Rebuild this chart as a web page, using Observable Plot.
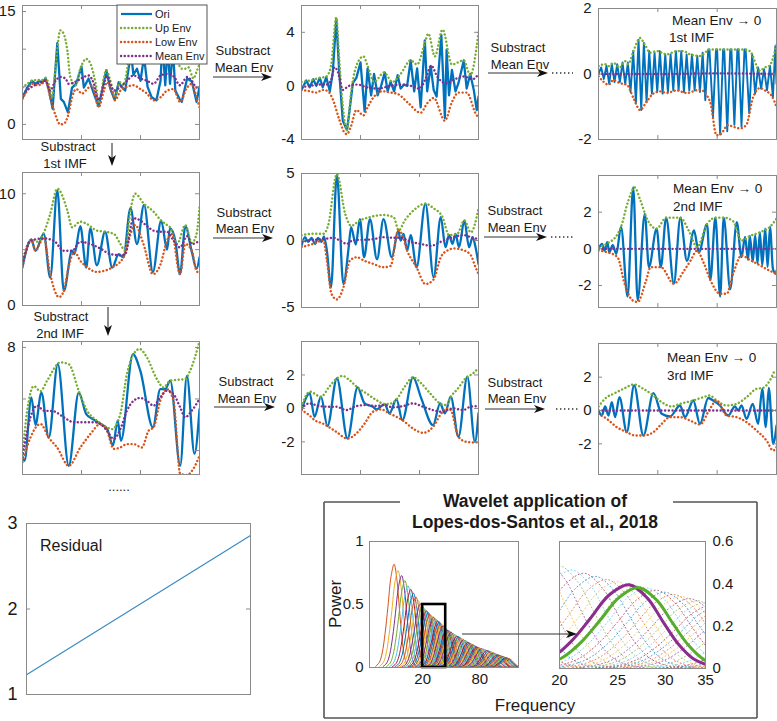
<!DOCTYPE html>
<html><head><meta charset="utf-8">
<script src="https://cdn.jsdelivr.net/npm/d3@7"></script>
<script src="https://cdn.jsdelivr.net/npm/@observablehq/plot@0.6"></script>
<style>
html,body{margin:0;padding:0;background:#fff;overflow:hidden;}
#fig{position:relative;width:777px;height:721px;overflow:hidden;background:#fff;}
</style></head><body><div id="fig"></div>
<script>
// ---------------- DATA ----------------
const seriesNames = ["Ori", "Up Env", "Low Env", "Mean Env"];
const imfNames = ["1st IMF", "2nd IMF", "3rd IMF"];
const xTicks = [1, 2];

// Row 1, original signal
const a1Ori = [[0,3.5],[0.08,4.9],[0.16,5.8],[0.22,5.4],[0.28,5.8],[0.33,5.5],[0.39,6.1],[0.45,4.5],[0.51,2.1],[0.59,10.8],[0.65,3.4],[0.70,3.0],[0.77,1.6],[0.84,4.9],[0.91,5.4],[1.0,7.7],[1.04,4.9],[1.12,6.1],[1.21,4.1],[1.29,2.4],[1.35,4.5],[1.42,7.2],[1.49,4.7],[1.56,3.3],[1.63,5.6],[1.69,4.9],[1.74,4.5],[1.84,9.5],[1.88,6.6],[1.94,7.4],[2.0,5.8],[2.06,9.0],[2.12,5.0],[2.19,3.6],[2.27,3.2],[2.34,5.8],[2.37,11.0],[2.42,5.2],[2.46,10.5],[2.50,5.4],[2.55,10.0],[2.59,4.5],[2.66,3.4],[2.70,3.0],[2.79,6.1],[2.87,5.7],[2.95,3.0],[3.0,5.0]];
const a1Up = [[0,4.9],[0.08,5.4],[0.16,5.8],[0.25,5.9],[0.33,5.9],[0.39,6.2],[0.45,5.2],[0.50,3.6],[0.56,7.6],[0.64,12.5],[0.70,12.0],[0.76,9.8],[0.81,6.3],[0.90,5.2],[0.98,7.4],[1.08,8.7],[1.15,8.1],[1.24,5.4],[1.30,2.8],[1.38,6.3],[1.42,7.2],[1.49,5.8],[1.57,3.6],[1.65,5.6],[1.71,5.2],[1.84,9.6],[1.95,9.0],[2.06,9.1],[2.20,8.5],[2.30,9.5],[2.40,11.5],[2.50,11.0],[2.60,9.0],[2.70,7.4],[2.76,7.4],[2.81,7.6],[2.90,6.1],[2.95,7.0],[3.0,8.0]];
const a1Low = [[0,3.4],[0.08,4.5],[0.16,5.4],[0.25,5.2],[0.33,5.4],[0.39,5.8],[0.47,3.6],[0.56,1.2],[0.64,0.0],[0.70,0.1],[0.78,1.4],[0.84,3.6],[0.91,4.7],[1.01,4.1],[1.07,4.5],[1.18,5.2],[1.29,2.3],[1.38,4.5],[1.43,5.6],[1.52,4.3],[1.57,3.2],[1.66,4.5],[1.77,5.0],[1.88,5.2],[2.0,4.7],[2.11,4.1],[2.22,3.2],[2.34,3.6],[2.45,4.5],[2.56,4.7],[2.67,3.0],[2.79,4.9],[2.87,5.4],[2.95,3.6],[3.0,2.3]];
const a1Mean = [[0,4.1],[0.14,4.9],[0.25,5.4],[0.39,5.8],[0.47,4.5],[0.56,5.8],[0.64,6.3],[0.73,6.1],[0.78,5.4],[0.84,5.5],[0.93,5.8],[1.04,6.3],[1.12,6.5],[1.21,5.4],[1.29,3.2],[1.38,5.4],[1.43,6.4],[1.55,4.5],[1.66,5.0],[1.77,5.8],[1.88,6.5],[2.0,6.1],[2.11,5.8],[2.22,5.4],[2.34,6.5],[2.45,6.7],[2.56,6.4],[2.67,5.2],[2.79,6.3],[2.87,5.8],[2.95,4.9],[3.0,4.9]];

const a2Ori = [[0,-0.3],[0.08,0.4],[0.14,-0.1],[0.2,0.5],[0.25,0.0],[0.31,0.6],[0.36,-0.1],[0.42,0.65],[0.48,-0.4],[0.53,1.0],[0.59,5.0],[0.64,1.0],[0.70,-2.6],[0.77,-3.3],[0.81,-2.0],[0.87,0.2],[0.93,0.6],[1.0,1.75],[1.07,-1.9],[1.12,1.3],[1.18,-0.7],[1.23,0.9],[1.29,-0.7],[1.35,0.0],[1.41,1.0],[1.46,-0.4],[1.51,0.3],[1.57,-0.4],[1.63,0.8],[1.68,-0.2],[1.74,0.1],[1.79,0.0],[1.85,1.9],[1.91,-0.4],[1.96,1.3],[2.02,-1.6],[2.09,3.4],[2.13,-0.4],[2.19,1.5],[2.24,-0.3],[2.29,-0.8],[2.37,3.8],[2.43,-2.4],[2.46,2.7],[2.50,-0.7],[2.55,1.2],[2.61,-0.4],[2.66,0.2],[2.75,1.9],[2.80,-0.2],[2.86,0.9],[2.92,-0.3],[2.97,-1.8],[3.0,-0.8]];
const a2Up = [[0,0.3],[0.14,0.4],[0.31,0.6],[0.42,0.7],[0.50,1.5],[0.59,5.1],[0.64,2.0],[0.70,-1.5],[0.77,-3.3],[0.84,-0.5],[0.93,1.5],[1.05,2.2],[1.12,1.5],[1.23,0.3],[1.40,1.0],[1.54,0.3],[1.68,0.9],[1.85,1.9],[1.96,1.6],[2.09,3.2],[2.15,3.9],[2.26,2.2],[2.39,4.2],[2.55,1.6],[2.75,1.9],[2.86,0.8],[3.0,4.0]];
const a2Low = [[0,-0.3],[0.14,-0.4],[0.25,-0.5],[0.36,-0.3],[0.45,-0.4],[0.53,-1.0],[0.64,-2.5],[0.73,-3.5],[0.77,-3.6],[0.84,-3.0],[0.93,-1.8],[1.05,-2.2],[1.12,-1.6],[1.23,-0.8],[1.37,-0.4],[1.51,-0.5],[1.63,-0.6],[1.79,-1.2],[2.02,-2.0],[2.13,-1.3],[2.24,-0.9],[2.43,-2.6],[2.55,-1.2],[2.66,-0.5],[2.80,-0.5],[2.97,-2.2],[3.0,-2.3]];
const a2Mean = [[0,-0.1],[0.14,0.0],[0.30,0.1],[0.42,0.1],[0.50,0.4],[0.56,1.4],[0.62,1.0],[0.70,-0.3],[0.80,0.0],[0.95,0.1],[1.1,-0.1],[1.3,-0.2],[1.5,0.0],[1.7,0.1],[1.85,0.0],[2.0,-0.2],[2.1,0.5],[2.2,1.5],[2.3,0.7],[2.45,0.2],[2.6,0.5],[2.75,0.7],[2.9,0.5],[3.0,0.9]];

const a3Ori = [[0,0],[0.045,0.2],[0.09,-0.15],[0.135,0.25],[0.18,-0.3],[0.225,0.3],[0.27,-0.25],[0.315,0.3],[0.36,-0.25],[0.405,0.35],[0.45,-0.3],[0.495,0.35],[0.54,-0.55],[0.585,0.7],[0.63,-0.9],[0.675,1.05],[0.72,-1.1],[0.765,0.95],[0.81,-0.85],[0.855,0.7],[0.90,-0.6],[0.945,0.65],[0.99,-0.55],[1.035,0.7],[1.08,-0.6],[1.125,0.6],[1.17,-0.55],[1.215,0.6],[1.26,-0.5],[1.305,0.7],[1.35,-0.5],[1.395,0.7],[1.44,-0.55],[1.485,0.6],[1.53,-0.5],[1.575,0.6],[1.62,-0.5],[1.665,0.55],[1.71,-0.55],[1.755,0.65],[1.80,-0.8],[1.85,0.75],[1.87,0.75],[1.93,-1.3],[1.98,0.75],[2.0,0.75],[2.05,-1.85],[2.10,0.75],[2.12,0.75],[2.17,-1.75],[2.22,0.75],[2.24,0.75],[2.29,-1.55],[2.34,0.75],[2.36,0.75],[2.41,-1.6],[2.46,0.75],[2.48,0.75],[2.54,-1.2],[2.59,0.6],[2.64,-0.6],[2.69,0.2],[2.74,-0.45],[2.79,0.15],[2.84,-0.5],[2.89,0.25],[2.94,-0.7],[2.98,0.85],[3.0,-0.3]];
const a3Up = [[0,0.24],[0.11,0.3],[0.17,0.24],[0.25,0.34],[0.36,0.2],[0.45,0.39],[0.50,0.3],[0.59,0.7],[0.70,1.1],[0.78,0.9],[0.87,0.65],[0.98,0.7],[1.15,0.6],[1.32,0.7],[1.43,0.7],[1.54,0.6],[1.71,0.55],[1.88,0.75],[2.05,0.75],[2.21,0.75],[2.44,0.75],[2.55,0.7],[2.72,0.1],[2.80,0.2],[2.88,0.25],[3.0,0.9]];
const a3Low = [[0,-0.07],[0.08,-0.23],[0.17,-0.33],[0.25,-0.18],[0.36,-0.28],[0.48,-0.33],[0.59,-0.74],[0.70,-1.1],[0.81,-0.85],[0.92,-0.6],[1.04,-0.53],[1.15,-0.58],[1.32,-0.5],[1.48,-0.58],[1.71,-0.48],[1.88,-0.84],[1.99,-1.87],[2.07,-1.82],[2.18,-1.56],[2.27,-1.61],[2.38,-1.66],[2.49,-1.56],[2.60,-0.74],[2.72,-0.43],[2.83,-0.53],[2.91,-0.64],[3.0,-1.0]];
const a3Mean = [[0,0],[1,0],[2,0.02],[3,0]];

// Row 2
const b1Ori = [[0,3.5],[0.15,5.9],[0.22,4.9],[0.36,6.4],[0.47,2.5],[0.59,10.3],[0.70,1.3],[0.84,4.9],[0.88,4.6],[0.98,7.1],[1.08,3.4],[1.15,6.9],[1.26,3.6],[1.40,6.6],[1.52,3.4],[1.63,4.6],[1.71,4.3],[1.83,8.7],[1.94,5.5],[2.06,9.0],[2.21,3.0],[2.35,7.6],[2.45,5.0],[2.50,6.9],[2.59,5.8],[2.67,2.8],[2.76,7.1],[2.87,4.8],[2.95,3.3],[3.0,4.3]];
const b1Up = [[0,4.0],[0.15,5.9],[0.25,5.7],[0.36,6.5],[0.47,8.2],[0.59,10.45],[0.76,8.5],[0.84,7.0],[0.98,7.5],[1.09,7.3],[1.26,6.7],[1.40,6.6],[1.55,6.4],[1.66,5.5],[1.74,4.9],[1.83,8.5],[1.91,10.0],[2.06,9.1],[2.22,8.4],[2.35,7.6],[2.45,7.2],[2.50,7.0],[2.62,5.5],[2.76,7.2],[2.87,5.6],[2.95,6.4],[3.0,8.8]];
const b1Low = [[0,3.4],[0.15,5.9],[0.22,4.9],[0.31,5.7],[0.36,6.1],[0.47,2.8],[0.62,0.75],[0.70,1.3],[0.78,3.4],[0.88,4.8],[0.98,4.0],[1.08,3.5],[1.26,3.0],[1.38,3.1],[1.52,3.4],[1.71,4.3],[1.91,7.2],[2.05,5.5],[2.21,2.8],[2.34,3.7],[2.45,5.8],[2.53,6.4],[2.67,2.8],[2.76,5.5],[2.87,4.9],[2.95,3.1],[3.0,2.9]];
const b1Mean = [[0,3.7],[0.14,5.8],[0.36,6.0],[0.53,5.8],[0.70,4.9],[0.84,4.9],[0.98,5.7],[1.15,5.5],[1.32,5.1],[1.49,4.6],[1.66,4.5],[1.74,4.6],[1.88,7.8],[2.0,7.6],[2.11,7.1],[2.22,6.7],[2.34,6.6],[2.45,6.6],[2.56,5.8],[2.67,5.2],[2.79,6.2],[2.87,5.5],[3.0,5.8]];

const b2Ori = [[0,-0.4],[0.06,0.25],[0.11,-0.1],[0.17,0.2],[0.23,-0.25],[0.28,0.2],[0.34,-0.1],[0.38,0.3],[0.43,-0.75],[0.50,-3.5],[0.60,4.9],[0.71,-3.25],[0.80,-0.5],[0.84,1.0],[0.92,-0.3],[0.99,1.6],[1.06,-1.25],[1.16,1.6],[1.28,-1.4],[1.39,1.6],[1.53,-1.25],[1.64,0.75],[1.68,0.0],[1.73,0.5],[1.79,-0.75],[1.85,0.4],[1.95,-2.0],[2.10,2.75],[2.24,-2.75],[2.36,1.75],[2.44,-0.5],[2.50,0.4],[2.56,-0.25],[2.61,0.5],[2.67,-0.5],[2.76,1.5],[2.84,-0.5],[2.90,0.25],[2.95,-0.5],[3.0,-1.75]];
const b2Up = [[0,0.4],[0.2,0.5],[0.37,0.5],[0.45,1.1],[0.60,4.95],[0.74,2.0],[0.84,1.1],[0.99,1.5],[1.16,1.75],[1.39,1.9],[1.56,1.75],[1.65,0.75],[1.75,1.5],[1.90,2.25],[2.10,2.75],[2.24,2.4],[2.39,1.75],[2.50,0.4],[2.64,0.5],[2.76,1.5],[2.87,0.6],[3.0,2.4]];
const b2Low = [[0,-0.5],[0.2,-0.25],[0.37,0.0],[0.43,-1.5],[0.51,-4.0],[0.60,-4.4],[0.71,-3.5],[0.82,-1.5],[0.94,-1.25],[1.06,-1.5],[1.22,-1.75],[1.39,-2.0],[1.51,-1.9],[1.64,0.75],[1.70,0.5],[1.79,-0.75],[1.95,-2.0],[2.10,-3.25],[2.24,-2.9],[2.36,-1.25],[2.47,-0.75],[2.58,-0.6],[2.76,-0.75],[2.87,-1.1],[2.95,-2.0],[3.0,-2.5]];
const b2Mean = [[0,-0.1],[0.2,0.05],[0.37,0.1],[0.54,0.2],[0.65,0.0],[0.77,-0.25],[0.88,0.05],[1.05,0.05],[1.22,0.1],[1.39,0.25],[1.56,0.2],[1.68,0.2],[1.85,-0.1],[2.02,-0.25],[2.19,-0.4],[2.36,-0.1],[2.53,0.2],[2.75,0.4],[2.87,0.25],[3.0,0.1]];

const b3Ori = [[0,0.0],[0.06,0.27],[0.10,-0.1],[0.15,0.36],[0.18,-0.2],[0.24,0.2],[0.30,-0.27],[0.38,1.2],[0.49,-2.6],[0.585,3.35],[0.66,-2.8],[0.78,1.9],[0.85,-1.0],[0.98,1.1],[1.05,-1.0],[1.14,1.7],[1.27,-1.9],[1.38,1.7],[1.49,-0.65],[1.61,1.0],[1.69,-0.2],[1.83,1.35],[1.885,-1.7],[1.97,1.7],[2.05,-2.6],[2.11,1.7],[2.22,-2.2],[2.33,1.45],[2.41,-0.45],[2.47,0.65],[2.52,-0.6],[2.55,0.7],[2.60,-0.7],[2.64,0.75],[2.68,-0.8],[2.72,0.9],[2.76,-0.9],[2.81,1.1],[2.85,-1.0],[2.89,1.2],[2.94,-1.1],[2.99,-1.36],[3.0,-1.2]];
const b3Up = [[0,0.1],[0.15,0.3],[0.32,0.8],[0.38,1.2],[0.49,2.5],[0.61,3.35],[0.71,2.6],[0.83,1.55],[0.98,1.1],[1.14,1.7],[1.27,1.7],[1.38,1.7],[1.52,1.0],[1.66,0.1],[1.83,1.35],[1.97,1.7],[2.11,1.7],[2.27,1.5],[2.41,0.45],[2.55,0.7],[2.72,0.9],[2.89,1.2],[3.0,1.65]];
const b3Low = [[0,-0.1],[0.16,-0.2],[0.32,-0.45],[0.44,-1.9],[0.57,-2.8],[0.66,-2.9],[0.80,-1.75],[0.88,-1.0],[1.05,-1.0],[1.27,-1.9],[1.44,-1.2],[1.55,-0.65],[1.66,-0.1],[1.77,-0.75],[1.885,-1.7],[2.05,-2.45],[2.16,-2.45],[2.27,-1.35],[2.41,-0.36],[2.55,-0.6],[2.72,-0.9],[2.89,-1.2],[3.0,-1.36]];
const b3Mean = [[0,0],[1,0],[2,0],[3,0]];

// Row 3
const c1Ori = [[0,3.74],[0.035,3.6],[0.15,6.06],[0.22,5.0],[0.32,6.25],[0.445,4.5],[0.598,7.35],[0.784,3.41],[0.953,6.25],[1.083,5.4],[1.207,5.2],[1.32,5.03],[1.432,4.85],[1.534,4.2],[1.613,5.16],[1.669,4.38],[1.872,7.74],[1.996,7.1],[2.211,4.9],[2.335,6.38],[2.419,6.38],[2.504,6.71],[2.673,3.41],[2.786,6.9],[2.915,3.87],[3.0,5.6]];
const c1Up = [[0,3.9],[0.08,5.55],[0.19,6.5],[0.305,6.3],[0.417,6.71],[0.643,7.42],[0.784,7.35],[0.953,6.32],[1.094,5.55],[1.263,5.16],[1.432,4.9],[1.517,4.83],[1.658,5.42],[1.771,6.97],[1.883,7.74],[1.985,7.94],[2.109,7.61],[2.278,6.77],[2.391,6.45],[2.504,6.71],[2.617,6.74],[2.757,6.77],[2.842,7.1],[3.0,8.23]];
const c1Low = [[0,3.55],[0.135,4.51],[0.305,5.03],[0.445,4.5],[0.586,4.12],[0.784,3.41],[0.981,4.12],[1.15,4.64],[1.32,5.03],[1.432,4.77],[1.545,4.06],[1.658,4.12],[1.771,4.25],[1.883,4.25],[2.024,4.12],[2.137,4.77],[2.222,4.9],[2.335,5.93],[2.447,6.38],[2.56,5.93],[2.673,3.1],[2.786,3.05],[2.898,3.3],[3.0,3.8]];
const c1Mean = [[0,3.74],[0.135,5.29],[0.248,5.74],[0.361,5.55],[0.53,5.52],[0.699,5.29],[0.868,5.1],[1.038,5.1],[1.207,5.1],[1.32,5.03],[1.432,4.77],[1.545,4.45],[1.658,4.83],[1.771,5.55],[1.883,5.93],[1.996,6.04],[2.109,5.93],[2.222,5.74],[2.335,6.06],[2.447,6.32],[2.56,6.19],[2.673,5.67],[2.757,5.29],[2.87,5.55],[3.0,6.0]];

const c2Ori = [[0,-0.1],[0.14,0.9],[0.22,-0.5],[0.33,0.7],[0.44,-1.06],[0.60,1.8],[0.78,-1.8],[0.95,1.25],[1.07,0.3],[1.21,0.1],[1.27,-0.06],[1.41,0.26],[1.49,-0.3],[1.61,0.54],[1.71,-0.7],[1.89,1.86],[2.03,0.6],[2.23,-1.0],[2.35,0.3],[2.43,-0.3],[2.53,0.7],[2.66,-1.7],[2.81,1.9],[2.94,-2.0],[3.0,-0.3]];
const c2Up = [[0,0.1],[0.14,1.0],[0.33,0.7],[0.47,1.3],[0.60,1.8],[0.70,1.94],[0.81,1.7],[0.95,1.25],[1.10,0.9],[1.27,0.5],[1.41,0.26],[1.52,0.3],[1.61,0.54],[1.75,1.3],[1.89,1.86],[2.03,1.5],[2.18,0.9],[2.35,0.3],[2.46,0.2],[2.53,0.7],[2.63,1.1],[2.80,1.86],[2.91,2.1],[3.0,2.44]];
const c2Low = [[0,-0.1],[0.13,-0.4],[0.22,-0.7],[0.36,-0.9],[0.44,-1.06],[0.59,-1.4],[0.78,-1.8],[0.93,-1.5],[1.07,-0.9],[1.21,-0.2],[1.35,-0.06],[1.49,-0.3],[1.71,-0.7],[1.89,-1.2],[2.06,-1.46],[2.23,-1.1],[2.37,-0.3],[2.46,0.0],[2.53,-0.1],[2.66,-1.7],[2.80,-2.0],[2.94,-2.04],[3.0,-2.0]];
const c2Mean = [[0,0.0],[0.13,0.3],[0.30,0.14],[0.47,0.1],[0.59,0.1],[0.76,-0.1],[0.93,0.14],[1.10,0.2],[1.27,0.14],[1.41,0.2],[1.55,0.06],[1.72,0.14],[1.89,0.3],[2.06,0.1],[2.23,-0.1],[2.37,-0.2],[2.57,0.0],[2.74,-0.1],[2.86,0.1],[3.0,0.14]];

const c3Ori = [[0,0.0],[0.056,-0.3],[0.112,0.24],[0.168,-0.3],[0.224,0.5],[0.28,-0.4],[0.353,0.8],[0.477,-1.3],[0.60,1.5],[0.757,-1.5],[0.925,1.04],[1.065,-0.2],[1.205,-0.36],[1.374,0.3],[1.458,-0.4],[1.598,0.6],[1.71,-0.8],[1.85,0.75],[1.934,0.6],[2.047,0.3],[2.187,-0.3],[2.299,0.24],[2.355,0.0],[2.411,0.3],[2.495,-0.5],[2.60,0.4],[2.69,-0.8],[2.76,1.3],[2.82,-1.0],[2.87,1.36],[2.944,-2.0],[3.0,-0.9]];
const c3Up = [[0,0.24],[0.14,0.8],[0.252,1.0],[0.42,1.3],[0.60,1.56],[0.757,1.3],[0.925,0.9],[1.065,0.5],[1.234,0.24],[1.374,0.4],[1.598,0.6],[1.766,0.8],[1.878,0.9],[1.99,0.6],[2.159,0.3],[2.327,0.4],[2.495,0.8],[2.663,1.3],[2.775,1.36],[2.888,1.8],[2.972,2.36],[3.0,2.4]];
const c3Low = [[0,-0.2],[0.14,-0.5],[0.308,-1.0],[0.477,-1.3],[0.617,-1.5],[0.757,-1.5],[0.925,-1.3],[1.065,-0.8],[1.205,-0.4],[1.374,-0.4],[1.542,-0.6],[1.71,-0.84],[1.878,0.1],[1.99,0.6],[2.159,-0.3],[2.327,-0.4],[2.495,-0.7],[2.663,-1.2],[2.832,-1.8],[2.944,-2.4],[3.0,-2.2]];
const c3Mean = [[0,0],[1,0],[2,0],[3,0]];

// y tick values and labels per panel
const a1Ticks = [0,5,10,15], a1Labels = [0,15];
const a2Ticks = [-4,0,4], a2Labels = [-4,0,4];
const a3Ticks = [-2,0,2], a3Labels = [-2,0,2];
const b1Ticks = [0,5,10], b1Labels = [0,10];
const b2Ticks = [-5,0,5], b2Labels = [-5,0,5];
const b3Ticks = [-2,0,2], b3Labels = [-2,0,2];
const c1Ticks = [4,6,8], c1Labels = [8];
const c2Ticks = [-2,0,2], c2Labels = [-2,0,2];
const c3Ticks = [-2,0,2], c3Labels = [-2,0,2];

// Residual
const residualX = [0, 3];
const residualY = [1.23, 2.86];
const residualTicks = [1, 2, 3];

// Wavelet spectra
const waveCenters = [10,11,12,13,14,15,16,17,18,19,20,21,22,23,24,25,26,27,28,29,30,31,32,33,34,35,36,37,38,39,40,
  42,44,46,48,50,52,54,56,58,60,62,64,66,68,70,72,74,76,78,80,
  84,88,92,96,100,104,108,112,116,120,124,128,132,136,140,144,148,152,156,160];
const wavePeaks = [0.82,0.77,0.73,0.69,0.65,0.62,0.59,0.56,0.53,0.505,0.485,0.465,0.45,0.435,0.42,0.41,0.40,0.39,0.38,0.37,0.36,0.35,0.34,0.33,0.32,0.31,0.30,0.295,0.29,0.285,0.28,
  0.27,0.26,0.25,0.245,0.235,0.23,0.22,0.215,0.21,0.20,0.195,0.19,0.185,0.18,0.175,0.17,0.165,0.16,0.158,0.155,
  0.15,0.145,0.14,0.135,0.13,0.125,0.12,0.115,0.11,0.105,0.10,0.097,0.094,0.09,0.087,0.084,0.08,0.077,0.074,0.072];
const shapeRatio = [0.638,0.698,0.748,0.803,0.861,0.928,1,1.073,1.139,1.209,1.284,1.363,1.462];
const shapeRel   = [0.01,0.05,0.14,0.33,0.59,0.88,1,0.84,0.56,0.29,0.11,0.035,0.007];
const highlightCenters = [26.1, 27.1];
const highlightPeaks = [0.396, 0.382];
const zoomBand = [20, 35];
const zoomPower = [0, 0.5];
const waveLeftXTicks = [20, 80];
const waveLeftYTicks = [0, 0.5, 1];
const waveRightXTicks = [20, 25, 30, 35];
const waveRightYTicks = [0, 0.2, 0.4, 0.6];

// ---------------- STYLE / LAYOUT ----------------
const FONT = '"Liberation Sans", Arial, Helvetica, sans-serif';
const C = {ori: "#0072BD", up: "#77AC30", low: "#D95319", mean: "#7E2F8E"};
const palette = ["#D95319","#EDB120","#7E2F8E","#77AC30","#4DBEEE","#A2142F","#0072BD"];
const frameStroke = "#8a8a8a";
const textColor = "#1a1a1a";
const fig = document.getElementById("fig");
function place(el, left, top) {
  el.style.position = "absolute"; el.style.left = left + "px"; el.style.top = top + "px";
  fig.appendChild(el);
}
const baseStyle = {fontFamily: FONT, fontSize: "15px", color: textColor, background: "transparent", overflow: "visible"};
const fmt = d => String(d);

function imfPanel(p) {
  const [L, T, R, B] = p.frame;
  const ml = 44, mr = 1, mt = 3, mb = 3;
  const w = R - L, h = B - T;
  const [y0, y1] = p.yDomain;
  const tx = 4 * 3 / w, ty = 4 * (y1 - y0) / h;
  const env = (data, stroke) => Plot.line(data, {x: d => d[0], y: d => d[1], stroke, strokeWidth: 2.4,
    strokeDasharray: "0.1 3.6", strokeLinecap: "round", curve: "monotone-x", clip: true});
  const chart = Plot.plot({
    width: w + ml + mr, height: h + mt + mb,
    marginLeft: ml, marginRight: mr, marginTop: mt, marginBottom: mb,
    x: {domain: [0, 3], axis: null},
    y: {domain: p.yDomain, axis: null},
    style: baseStyle,
    marks: [
      Plot.line(p.ori, {x: d => d[0], y: d => d[1], stroke: C.ori, strokeWidth: p.oriWidth || 2.3, curve: p.oriCurve, clip: true}),
      env(p.up, C.up), env(p.low, C.low), env(p.mean, C.mean),
      Plot.ruleY(p.ticks, {x1: 0, x2: tx, stroke: frameStroke}),
      Plot.ruleY(p.ticks, {x1: 3 - tx, x2: 3, stroke: frameStroke}),
      Plot.ruleX(xTicks, {y1: y0, y2: y0 + ty, stroke: frameStroke}),
      Plot.ruleX(xTicks, {y1: y1 - ty, y2: y1, stroke: frameStroke}),
      Plot.frame({stroke: frameStroke}),
      Plot.text(p.labels, {y: d => d, frameAnchor: "left", dx: -7, textAnchor: "end", text: fmt, fill: textColor})
    ]
  });
  place(chart, L - ml, T - mt);
}

const panels = [
  {ori: a1Ori, up: a1Up, low: a1Low, mean: a1Mean, frame: [22, 5, 199, 139], yDomain: [-2, 15.8], ticks: a1Ticks, labels: a1Labels, oriCurve: "linear"},
  {ori: a2Ori, up: a2Up, low: a2Low, mean: a2Mean, frame: [301, 5, 478, 139], yDomain: [-4, 6], ticks: a2Ticks, labels: a2Labels, oriCurve: "linear"},
  {ori: a3Ori, up: a3Up, low: a3Low, mean: a3Mean, frame: [598, 8, 776, 139], yDomain: [-2, 2], ticks: a3Ticks, labels: a3Labels, oriCurve: "linear", oriWidth: 1.9},
  {ori: b1Ori, up: b1Up, low: b1Low, mean: b1Mean, frame: [22, 172, 199, 305], yDomain: [0, 11.9], ticks: b1Ticks, labels: b1Labels, oriCurve: "monotone-x"},
  {ori: b2Ori, up: b2Up, low: b2Low, mean: b2Mean, frame: [301, 173, 478, 307], yDomain: [-5, 5], ticks: b2Ticks, labels: b2Labels, oriCurve: "monotone-x"},
  {ori: b3Ori, up: b3Up, low: b3Low, mean: b3Mean, frame: [598, 175, 776, 307], yDomain: [-3.2, 4], ticks: b3Ticks, labels: b3Labels, oriCurve: "monotone-x"},
  {ori: c1Ori, up: c1Up, low: c1Low, mean: c1Mean, frame: [22, 341, 199, 474], yDomain: [3.07, 8.23], ticks: c1Ticks, labels: c1Labels, oriCurve: "monotone-x"},
  {ori: c2Ori, up: c2Up, low: c2Low, mean: c2Mean, frame: [301, 341, 478, 474], yDomain: [-3.95, 4], ticks: c2Ticks, labels: c2Labels, oriCurve: "monotone-x"},
  {ori: c3Ori, up: c3Up, low: c3Low, mean: c3Mean, frame: [598, 343, 776, 474], yDomain: [-3.84, 4.02], ticks: c3Ticks, labels: c3Labels, oriCurve: "monotone-x"}
];
panels.forEach(imfPanel);

// Residual panel
{
  const [L, T, R, B] = [26, 523, 250, 694];
  const ml = 44, mr = 2, mt = 8, mb = 8;
  const resid = residualX.map((x, i) => ({x, y: residualY[i]}));
  const tx = 4 * 3 / (R - L);
  const chart = Plot.plot({
    width: R - L + ml + mr, height: B - T + mt + mb,
    marginLeft: ml, marginRight: mr, marginTop: mt, marginBottom: mb,
    x: {domain: [0, 3], axis: null}, y: {domain: [1, 3], axis: null},
    style: {...baseStyle, fontSize: "18px"},
    marks: [
      Plot.line(resid, {x: "x", y: "y", stroke: "#3a8cc2", strokeWidth: 1.2}),
      Plot.ruleY([2], {x1: 0, x2: tx, stroke: frameStroke}),
      Plot.ruleY([2], {x1: 3 - tx, x2: 3, stroke: frameStroke}),
      Plot.frame({stroke: frameStroke}),
      Plot.text(residualTicks, {y: d => d, frameAnchor: "left", dx: -9, textAnchor: "end", text: fmt, fill: textColor})
    ]
  });
  place(chart, L - ml, T - mt);
}

// Wavelet spectra (left)
const waveRows = waveCenters.flatMap((c, i) => shapeRatio.map((r, j) => ({id: i, f: c * r, p: wavePeaks[i] * shapeRel[j], color: palette[i % palette.length]})));
{
  const [L, T, R, B] = [369, 541, 518, 667];
  const ml = 40, mr = 2, mt = 4, mb = 30;
  const chart = Plot.plot({
    width: R - L + ml + mr, height: B - T + mt + mb,
    marginLeft: ml, marginRight: mr, marginTop: mt, marginBottom: mb,
    x: {type: "log", domain: [5.5, 205], axis: null},
    y: {domain: [0, 1], axis: null},
    color: {type: "identity"},
    style: baseStyle,
    marks: [
      Plot.line(waveRows, {x: "f", y: "p", z: "id", stroke: "color", strokeWidth: 1, curve: "catmull-rom", clip: true}),
      Plot.rect([{x1: zoomBand[0], x2: zoomBand[1], y1: zoomPower[0], y2: zoomPower[1]}], {x1: "x1", x2: "x2", y1: "y1", y2: "y2", fill: "none", stroke: "#000", strokeWidth: 2.6}),
      Plot.frame({stroke: frameStroke}),
      Plot.text(waveLeftYTicks, {y: d => d, frameAnchor: "left", dx: -6, textAnchor: "end", text: fmt, fill: textColor}),
      Plot.text(waveLeftXTicks, {x: d => d, frameAnchor: "bottom", dy: 16, text: fmt, fill: textColor})
    ]
  });
  place(chart, L - ml, T - mt);
}
// Wavelet spectra (right, zoom)
const zoomRows = waveRows.filter(d => waveCenters[d.id] >= 12 && waveCenters[d.id] <= 60);
const highlightRows = highlightCenters.flatMap((c, i) => shapeRatio.map((r, j) => ({id: i, f: c * r, p: highlightPeaks[i] * shapeRel[j]})));
{
  const [L, T, R, B] = [559, 541, 705, 668];
  const ml = 2, mr = 40, mt = 4, mb = 30;
  const chart = Plot.plot({
    width: R - L + ml + mr, height: B - T + mt + mb,
    marginLeft: ml, marginRight: mr, marginTop: mt, marginBottom: mb,
    x: {type: "log", domain: zoomBand, axis: null},
    y: {domain: [0, 0.6], axis: null},
    color: {type: "identity"},
    style: baseStyle,
    marks: [
      Plot.line(zoomRows, {x: "f", y: "p", z: "id", stroke: "color", strokeWidth: 0.9, strokeOpacity: 0.75, strokeDasharray: "1 2.6", curve: "catmull-rom", clip: true}),
      Plot.line(highlightRows.filter(d => d.id === 0), {x: "f", y: "p", stroke: "#8B2D8E", strokeWidth: 3, curve: "catmull-rom", clip: true}),
      Plot.line(highlightRows.filter(d => d.id === 1), {x: "f", y: "p", stroke: "#56AD2C", strokeWidth: 3, curve: "catmull-rom", clip: true}),
      Plot.frame({stroke: frameStroke}),
      Plot.text(waveRightYTicks, {y: d => d, frameAnchor: "right", dx: 7, textAnchor: "start", text: fmt, fill: textColor}),
      Plot.text(waveRightXTicks, {x: d => d, frameAnchor: "bottom", dy: 16, text: fmt, fill: textColor})
    ]
  });
  place(chart, L - ml, T - mt);
}

// ---------------- ANNOTATION OVERLAY ----------------
const ov = d3.create("svg").attr("width", 777).attr("height", 721)
  .style("position", "absolute").style("left", "0px").style("top", "0px")
  .style("font-family", FONT);
function txt(s, x, y, size = 13, anchor = "middle", weight = "normal") {
  ov.append("text").attr("x", x).attr("y", y).attr("text-anchor", anchor)
    .attr("dominant-baseline", "central").attr("font-size", size).attr("font-weight", weight)
    .attr("fill", textColor).text(s);
}
function arrowH(x1, x2, y) {
  ov.append("line").attr("x1", x1).attr("x2", x2 - 6).attr("y1", y).attr("y2", y).attr("stroke", "#333").attr("stroke-width", 1.1);
  ov.append("path").attr("d", `M${x2},${y} L${x2 - 11},${y - 4} L${x2 - 8},${y} L${x2 - 11},${y + 4} Z`).attr("fill", "#111");
}
function arrowV(x, y1, y2) {
  ov.append("line").attr("x1", x).attr("x2", x).attr("y1", y1).attr("y2", y2 - 6).attr("stroke", "#333").attr("stroke-width", 1.1);
  ov.append("path").attr("d", `M${x},${y2} L${x - 4},${y2 - 11} L${x},${y2 - 8} L${x + 4},${y2 - 11} Z`).attr("fill", "#111");
}
function dots(x1, x2, y) {
  ov.append("line").attr("x1", x1).attr("x2", x2).attr("y1", y).attr("y2", y).attr("stroke", "#333")
    .attr("stroke-width", 1.4).attr("stroke-dasharray", "1.4 2.6");
}
// Row arrows
txt("Substract", 243, 50); txt("Mean Env", 244, 67); arrowH(213, 272, 77);
txt("Substract", 518, 47); txt("Mean Env", 520, 64); arrowH(488, 548, 73); dots(552, 573, 73);
txt("Substract", 244, 212); txt("Mean Env", 245, 228); arrowH(213, 273, 238);
txt("Substract", 515, 210); txt("Mean Env", 517, 227); arrowH(484, 547, 237); dots(551, 574, 237);
txt("Substract", 246, 381); txt("Mean Env", 247, 398); arrowH(214, 275, 407);
txt("Substract", 515, 382); txt("Mean Env", 517, 398); arrowH(485, 545, 409); dots(556, 578, 409);
// Down arrows
txt("Substract", 68, 146); txt(imfNames[0], 65, 163); arrowV(112, 143, 166);
txt("Substract", 61, 316); txt(imfNames[1], 60, 333); arrowV(108, 307, 336);
txt("......", 119, 486);
// IMF annotations
txt("Mean Env \u2192 0", 672, 20, 13.5, "start"); txt(imfNames[0], 669, 37, 13.5, "start");
txt("Mean Env \u2192 0", 673, 188, 13.5, "start"); txt(imfNames[1], 673, 206, 13.5, "start");
txt("Mean Env \u2192 0", 667, 357, 13.5, "start"); txt(imfNames[2], 667, 375, 13.5, "start");
// Residual label
txt("Residual", 40, 545, 16, "start");
// Legend
{
  const g = ov.append("g").attr("transform", "translate(117,5)");
  g.append("rect").attr("width", 90).attr("height", 59).attr("fill", "#fff").attr("stroke", "#555").attr("stroke-width", 1);
  const cols = [C.ori, C.up, C.low, C.mean];
  seriesNames.forEach((name, i) => {
    const y = 9 + i * 14;
    const ln = g.append("line").attr("x1", 4).attr("x2", 35).attr("y1", y).attr("y2", y).attr("stroke", cols[i]).attr("stroke-width", 2.2);
    if (i > 0) ln.attr("stroke-dasharray", "0.1 3.6").attr("stroke-linecap", "round").attr("stroke-width", 2.4);
    g.append("text").attr("x", 38).attr("y", y).attr("dominant-baseline", "central").attr("font-size", 11).attr("fill", textColor).text(name);
  });
}
// Wavelet box
{
  const BX = 324, BT = 502, BR = 757, BB = 718;
  const st = "#555";
  const seg = (x1, y1, x2, y2) => ov.append("line").attr("x1", x1).attr("y1", y1).attr("x2", x2).attr("y2", y2).attr("stroke", st).attr("stroke-width", 1.6);
  seg(BX, BT, 400, BT); seg(673, BT, BR, BT); seg(BR, BT, BR, BB); seg(BX, BB, BR, BB); seg(BX, BT, BX, BB);
  txt("Wavelet application of", 535, 501, 17.5, "middle", "bold");
  txt("Lopes-dos-Santos et al., 2018", 535, 522, 17.5, "middle", "bold");
  txt("Frequency", 535, 705, 17);
  ov.append("text").attr("transform", "translate(335,604) rotate(-90)").attr("text-anchor", "middle")
    .attr("dominant-baseline", "central").attr("font-size", 17).attr("fill", textColor).text("Power");
  arrowH(462, 577, 634);
}
fig.appendChild(ov.node());
</script>
</body></html>
